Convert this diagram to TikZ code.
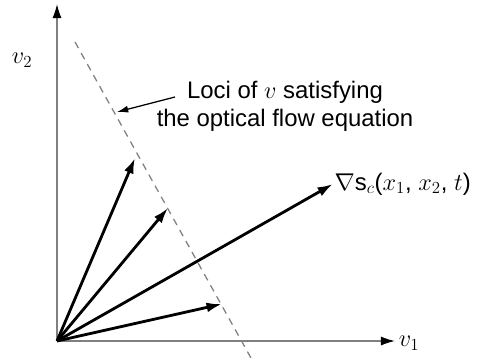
\documentclass[tikz,border=0pt]{standalone}
\usepackage{fontspec}
\setmainfont{Liberation Sans}
\usetikzlibrary{arrows.meta}

\begin{document}
\begin{tikzpicture}[x=0.025cm, y=-0.025cm,
  axis/.style={gray, line width=1.1pt, -{Latex[length=10pt, width=6.5pt, black]}},
  vec/.style={line width=2pt, -{Latex[length=11pt, width=7pt]}},
  lbl/.style={font=\fontsize{17}{20}\selectfont, inner sep=1pt}]
  \useasboundingbox (0,0) rectangle (480,362);

  % axes
  \coordinate (O)  at (57,341);
  \coordinate (xe) at (395,341);
  \coordinate (ye) at (57,4);
  \draw[axis] (O) -- (xe);
  \draw[axis] (O) -- (ye);
  \node[lbl] (v1) at (409,343) {$v_1$};
  \node[lbl] (v2) at (22,60) {$v_2$};

  % loci line
  \coordinate (la) at (75,42);
  \coordinate (lb) at (251,358);
  \draw[gray, line width=0.9pt, dash pattern=on 5pt off 4pt] (la) -- (lb);

  % vectors
  \coordinate (a1) at (135,158);
  \coordinate (a2) at (168,208);
  \coordinate (a3) at (333,184);
  \coordinate (a4) at (222,304);
  \draw[vec] (O) -- (a1);
  \draw[vec] (O) -- (a2);
  \draw[vec] (O) -- (a3);
  \draw[vec] (O) -- (a4);
  \node[lbl, anchor=west] (grad) at (a3) {$\nabla$s$_c$($x_1$, $x_2$, $t$)};

  % annotation
  \node[lbl, align=center] (loci) at (285,106) {Loci of $v$ satisfying\\the optical flow equation};
  \coordinate (ls) at (175,97);
  \coordinate (lp) at (117,112);
  \draw[line width=0.9pt, -{Latex[length=8pt, width=5pt]}] (ls) -- (lp);
\end{tikzpicture}
\end{document}
